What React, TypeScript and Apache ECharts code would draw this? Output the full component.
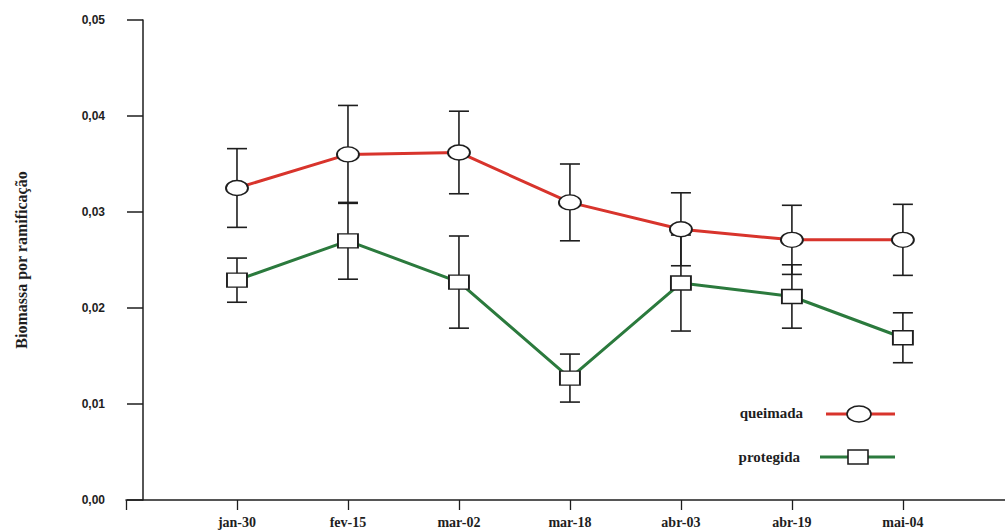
import React, { useEffect, useRef } from "react";
import * as echarts from "echarts";

const categories = ["jan-30", "fev-15", "mar-02", "mar-18", "abr-03", "abr-19", "mai-04"];
const queimada = [0.0325, 0.036, 0.0362, 0.031, 0.0282, 0.0271, 0.0271];
const queimadaErr = [0.0041, 0.0051, 0.0043, 0.004, 0.0038, 0.0036, 0.0037];
const protegida = [0.0229, 0.027, 0.0227, 0.0127, 0.0226, 0.0212, 0.0169];
const protegidaErr = [0.0023, 0.004, 0.0048, 0.0025, 0.005, 0.0033, 0.0026];
const yTicks = [0, 0.01, 0.02, 0.03, 0.04, 0.05];
const seriesNames = ["queimada", "protegida"];

const RED = "#d8342c";
const GREEN = "#2b7a3d";
const INK = "#1e1e1e";
const ELLIPSE = "path://M0,10 A10,10 0 1,1 20,10 A10,10 0 1,1 0,10 Z";

export default function App() {
  const ref = useRef<HTMLDivElement>(null);
  useEffect(() => {
    document.body.style.margin = "0";
    const chart = echarts.init(ref.current!, null, { renderer: "svg" });
    const pts = (vals: number[]) => vals.map((v, i) => [i + 1, v]);
    const errs = (vals: number[], e: number[]) => vals.map((v, i) => [i + 1, v - e[i], v + e[i]]);
    const renderErr = (params: any, api: any) => {
      const x = api.value(0);
      const pHi = api.coord([x, api.value(2)]);
      const pLo = api.coord([x, api.value(1)]);
      const hw = 10;
      const style = { stroke: INK, lineWidth: 1.6 };
      return {
        type: "group",
        children: [
          { type: "line", shape: { x1: pHi[0], y1: pHi[1], x2: pLo[0], y2: pLo[1] }, style },
          { type: "line", shape: { x1: pHi[0] - hw, y1: pHi[1], x2: pHi[0] + hw, y2: pHi[1] }, style },
          { type: "line", shape: { x1: pLo[0] - hw, y1: pLo[1], x2: pLo[0] + hw, y2: pLo[1] }, style },
        ],
      };
    };
    const legendFont = { fontFamily: "Liberation Serif", fontSize: 15, fontWeight: "bold", fill: INK };
    chart.setOption({
      animation: false,
      backgroundColor: "#ffffff",
      grid: { left: 126, right: 0, top: 20, bottom: 32 },
      xAxis: {
        type: "value",
        min: 0,
        max: 7.92,
        interval: 1,
        splitLine: { show: false },
        axisLine: { lineStyle: { color: INK, width: 1.5 } },
        axisTick: { customValues: [0, 1, 2, 3, 4, 5, 6, 7], length: 10, lineStyle: { color: INK, width: 1.3 } },
        axisLabel: {
          customValues: [1, 2, 3, 4, 5, 6, 7],
          formatter: (v: number) => categories[Math.round(v) - 1] ?? "",
          fontFamily: "Liberation Serif",
          fontWeight: "bold",
          fontSize: 14,
          color: INK,
          margin: 15,
        },
      },
      yAxis: {
        type: "value",
        min: 0,
        max: 0.05,
        interval: 0.01,
        offset: -17,
        name: "Biomassa por ramificação",
        nameLocation: "middle",
        nameGap: 114,
        nameTextStyle: { fontFamily: "Liberation Serif", fontWeight: "bold", fontSize: 16, color: INK },
        splitLine: { show: false },
        axisLine: { show: true, lineStyle: { color: INK, width: 1.5 } },
        axisTick: { show: true, length: 16, lineStyle: { color: INK, width: 1.5 } },
        axisLabel: {
          formatter: (v: number) => {
            const t = yTicks.find((k) => Math.abs(k - v) < 1e-9);
            return t === undefined ? "" : t.toFixed(2).replace(".", ",");
          },
          fontFamily: "Liberation Sans",
          fontWeight: "bold",
          fontSize: 12,
          color: INK,
          margin: 38,
        },
      },
      series: [
        {
          type: "custom",
          name: "queimada-err",
          renderItem: renderErr,
          encode: { x: 0, y: [1, 2] },
          data: errs(queimada, queimadaErr),
          z: 2,
        },
        {
          type: "custom",
          name: "protegida-err",
          renderItem: renderErr,
          encode: { x: 0, y: [1, 2] },
          data: errs(protegida, protegidaErr),
          z: 2,
        },
        {
          type: "line",
          name: seriesNames[0],
          data: pts(queimada),
          symbol: ELLIPSE,
          symbolSize: [22, 15],
          showAllSymbol: true,
          lineStyle: { color: RED, width: 3 },
          itemStyle: { color: "#ffffff", borderColor: INK, borderWidth: 1.6 },
          z: 3,
        },
        {
          type: "line",
          name: seriesNames[1],
          data: pts(protegida),
          symbol: "rect",
          symbolSize: [20, 14],
          showAllSymbol: true,
          lineStyle: { color: GREEN, width: 3 },
          itemStyle: { color: "#ffffff", borderColor: INK, borderWidth: 1.6 },
          z: 3,
        },
      ],
      graphic: [
        { type: "text", right: 1005 - 803, top: 405, style: { ...legendFont, text: seriesNames[0] } },
        { type: "line", shape: { x1: 826, y1: 414, x2: 895, y2: 414 }, style: { stroke: RED, lineWidth: 3 } },
        { type: "ellipse", shape: { cx: 859, cy: 414, rx: 12, ry: 8 }, style: { fill: "#fff", stroke: INK, lineWidth: 1.6 } },
        { type: "text", right: 1005 - 800, top: 449, style: { ...legendFont, text: seriesNames[1] } },
        { type: "line", shape: { x1: 820, y1: 457, x2: 895, y2: 457 }, style: { stroke: GREEN, lineWidth: 3 } },
        { type: "rect", shape: { x: 848, y: 450, width: 20, height: 14 }, style: { fill: "#fff", stroke: INK, lineWidth: 1.6 } },
      ],
    });
    return () => chart.dispose();
  }, []);
  return <div ref={ref} style={{ width: 1005, height: 532 }} />;
}
